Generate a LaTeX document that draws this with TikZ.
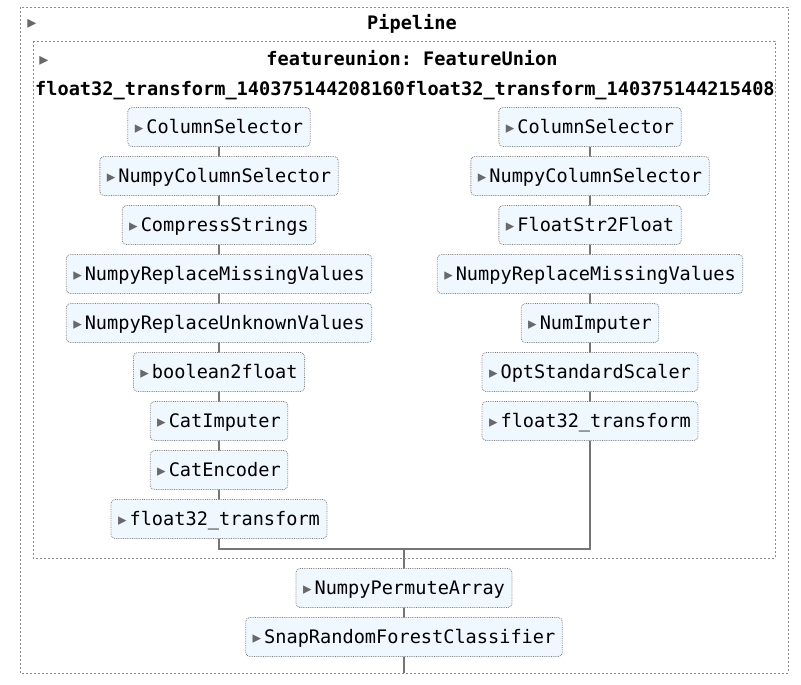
\documentclass[tikz,border=0pt]{standalone}
\usepackage{fontspec}
\setmonofont{DejaVu Sans Mono}
\newfontfamily\symfont{DejaVu Sans}
\usetikzlibrary{backgrounds}
\definecolor{boxfill}{HTML}{F0F8FF}
\definecolor{edgec}{HTML}{757575}
\definecolor{trig}{HTML}{696969}
\newcommand\mytri{{\symfont\fontsize{17}{17}\selectfont\color{trig}▸}\hspace{3pt}}
\begin{document}
\begin{tikzpicture}[x=1pt,y=-1pt,
  est/.style={draw=black!50, densely dotted, line width=0.8pt, fill=boxfill,
    rounded corners=4pt, minimum height=39pt, inner xsep=7pt, inner ysep=0pt,
    text height=17pt, text depth=4pt,
    font=\ttfamily\fontsize{18.6}{20}\selectfont},
  ttl/.style={font=\ttfamily\bfseries\fontsize{18.6}{20}\selectfont, inner sep=0pt,
    text height=17pt, text depth=4pt},
  frame/.style={draw=black!45, dash pattern=on 2pt off 2pt, line width=0.8pt},
  conn/.style={draw=edgec, line width=1.1pt},
  htri/.style={font=\symfont\fontsize{18}{18}\selectfont, text=trig, inner sep=0pt}]
\useasboundingbox (0,0) rectangle (801,685);
% frames
\draw[frame] (20,7) rectangle (788,673);
\draw[frame] (33,41) rectangle (775,558);
\node[htri] (t0) at (32,23.5) {▸};
\node[ttl] (pipe) at (412,23) {Pipeline};
\node[htri] (t1) at (44,60.5) {▸};
\node[ttl] (fu) at (412,59) {featureunion: FeatureUnion};
\node[ttl, anchor=west] (lab1) at (35,89) {float32\_transform\_140375144208160};
\node[ttl, anchor=west] (lab2) at (lab1.east) {float32\_transform\_140375144215408};
% left column
\node[est] (l1) at (219,127) {\mytri ColumnSelector};
\node[est] (l2) at (219,176) {\mytri NumpyColumnSelector};
\node[est] (l3) at (219,225) {\mytri CompressStrings};
\node[est] (l4) at (219,274) {\mytri NumpyReplaceMissingValues};
\node[est] (l5) at (219,323) {\mytri NumpyReplaceUnknownValues};
\node[est] (l6) at (219,372) {\mytri boolean2float};
\node[est] (l7) at (219,421) {\mytri CatImputer};
\node[est] (l8) at (219,470) {\mytri CatEncoder};
\node[est] (l9) at (219,519) {\mytri float32\_transform};
% right column
\node[est] (r1) at (590,127) {\mytri ColumnSelector};
\node[est] (r2) at (590,176) {\mytri NumpyColumnSelector};
\node[est] (r3) at (590,225) {\mytri FloatStr2Float};
\node[est] (r4) at (590,274) {\mytri NumpyReplaceMissingValues};
\node[est] (r5) at (590,323) {\mytri NumImputer};
\node[est] (r6) at (590,372) {\mytri OptStandardScaler};
\node[est] (r7) at (590,421) {\mytri float32\_transform};
% bottom
\node[est] (b1) at (404,588) {\mytri NumpyPermuteArray};
\node[est] (b2) at (404,637) {\mytri SnapRandomForestClassifier};
\coordinate (jl) at (219,549);
\coordinate (jr) at (590,549);
\coordinate (jc) at (404,549);
\coordinate (end) at (404,673);
\begin{scope}[on background layer]
\fill[white] (0,0) rectangle (801,685);
\draw[conn] (l1.south) -- (l9.south) -- (jl) -- (jr) -- (r7.south) -- (r1.south);
\draw[conn] (jc) -- (b1.north) -- (b2.south) -- (end);
\end{scope}
\end{tikzpicture}
\end{document}
